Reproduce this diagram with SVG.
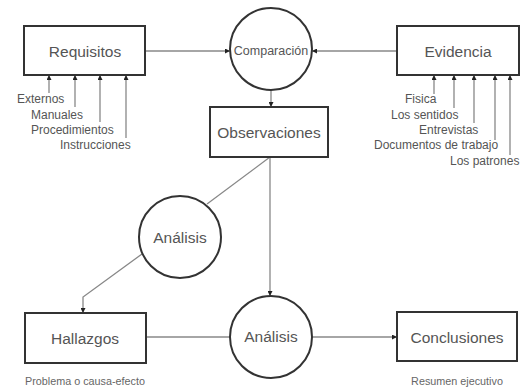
<svg xmlns="http://www.w3.org/2000/svg" width="526" height="390" viewBox="0 0 526 390">
<style>
.box{fill:#fff;stroke:#333;stroke-width:2}
.circ{fill:#fff;stroke:#333;stroke-width:2}
.t{font-family:"Liberation Sans",Arial,sans-serif;fill:#555;text-anchor:middle;dominant-baseline:central}
.big{font-size:15.5px}
.lab{font-family:"Liberation Sans",Arial,sans-serif;fill:#555;font-size:12px}
.sm{font-family:"Liberation Sans",Arial,sans-serif;fill:#666;font-size:10.8px;text-anchor:middle}
.ln{fill:none;stroke:#888;stroke-width:1.3}
</style>
<defs>
<marker id="ah" viewBox="0 0 10 10" refX="10" refY="5" markerWidth="5" markerHeight="5" orient="auto" markerUnits="userSpaceOnUse">
<path d="M0,0 L10,5 L0,10 z" fill="#222"/>
</marker>
</defs>
<rect width="526" height="390" fill="#fff"/>
<g id="connectors">
<line class="ln" x1="145" y1="51" x2="230" y2="51" marker-end="url(#ah)"/>
<line class="ln" x1="397" y1="51" x2="312" y2="51" marker-end="url(#ah)"/>
<line class="ln" x1="271" y1="90" x2="271" y2="107" marker-end="url(#ah)"/>
<line class="ln" x1="49" y1="93" x2="49" y2="75" marker-end="url(#ah)"/>
<line class="ln" x1="75" y1="107" x2="75" y2="75" marker-end="url(#ah)"/>
<line class="ln" x1="100" y1="122" x2="100" y2="75" marker-end="url(#ah)"/>
<line class="ln" x1="126" y1="138" x2="126" y2="75" marker-end="url(#ah)"/>
<line class="ln" x1="434" y1="94" x2="434" y2="75" marker-end="url(#ah)"/>
<line class="ln" x1="454" y1="108" x2="454" y2="75" marker-end="url(#ah)"/>
<line class="ln" x1="474" y1="123" x2="474" y2="75" marker-end="url(#ah)"/>
<line class="ln" x1="495" y1="140" x2="495" y2="75" marker-end="url(#ah)"/>
<line class="ln" x1="510" y1="155" x2="510" y2="75" marker-end="url(#ah)"/>
<line class="ln" x1="270" y1="157" x2="207" y2="204"/>
<polyline class="ln" points="142,254 83,297 83,313" marker-end="url(#ah)"/>
<line class="ln" x1="270" y1="157" x2="270" y2="296" marker-end="url(#ah)"/>
<line class="ln" x1="145" y1="337" x2="230" y2="337"/>
<line class="ln" x1="312" y1="337" x2="397" y2="337" marker-end="url(#ah)"/>
</g>
<g id="requisitos">
<rect class="box" x="24" y="26" width="121" height="49"/>
<text class="t big" x="85" y="51">Requisitos</text>
</g>
<g id="requisitos-labels">
<text class="lab" x="17" y="103">Externos</text>
<text class="lab" x="31" y="119">Manuales</text>
<text class="lab" x="31" y="134">Procedimientos</text>
<text class="lab" x="60" y="149">Instrucciones</text>
</g>
<g id="evidencia">
<rect class="box" x="397" y="26" width="122" height="49"/>
<text class="t big" x="458" y="51">Evidencia</text>
</g>
<g id="evidencia-labels">
<text class="lab" x="405" y="103">Fisica</text>
<text class="lab" x="391" y="119">Los sentidos</text>
<text class="lab" x="419" y="134">Entrevistas</text>
<text class="lab" x="374" y="149">Documentos de trabajo</text>
<text class="lab" x="450" y="165">Los patrones</text>
</g>
<g id="comparacion">
<circle class="circ" cx="271" cy="49" r="41"/>
<text class="t" x="271" y="51" font-size="12.5">Comparación</text>
</g>
<g id="observaciones">
<rect class="box" x="210" y="107" width="118" height="50"/>
<text class="t big" x="269" y="132">Observaciones</text>
</g>
<g id="analisis1">
<circle class="circ" cx="180" cy="237" r="41"/>
<text class="t big" x="180" y="237">Análisis</text>
</g>
<g id="hallazgos">
<rect class="box" x="25" y="313" width="121" height="50"/>
<text class="t big" x="85" y="338">Hallazgos</text>
<text class="sm" x="85" y="385">Problema o causa-efecto</text>
</g>
<g id="analisis2">
<circle class="circ" cx="271" cy="337" r="41"/>
<text class="t big" x="271" y="336">Análisis</text>
</g>
<g id="conclusiones">
<rect class="box" x="397" y="312" width="120" height="49"/>
<text class="t big" x="457" y="337">Conclusiones</text>
<text class="sm" x="457" y="385">Resumen ejecutivo</text>
</g>
</svg>
